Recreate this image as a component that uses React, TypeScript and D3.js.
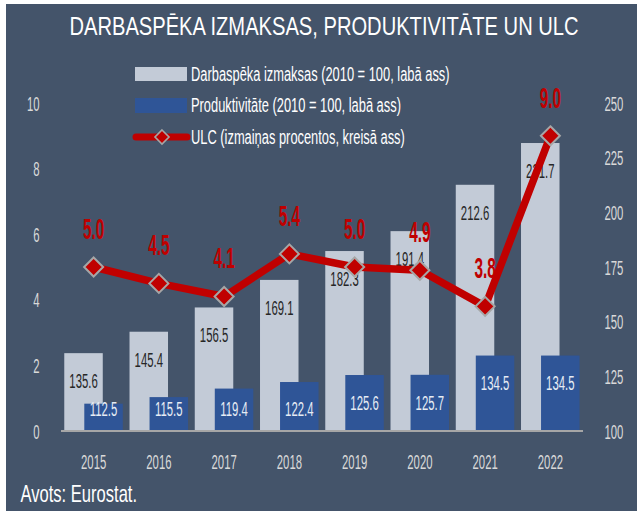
import React from "react";
import * as d3 from "d3";

const years = ["2015", "2016", "2017", "2018", "2019", "2020", "2021", "2022"];
const laborCost = [135.6, 145.4, 156.5, 169.1, 182.3, 191.4, 212.6, 231.7];
const productivity = [112.5, 115.5, 119.4, 122.4, 125.6, 125.7, 134.5, 134.5];
const ulc = [5.0, 4.5, 4.1, 5.4, 5.0, 4.9, 3.8, 9.0];
const leftTicks = [0, 2, 4, 6, 8, 10];
const rightTicks = [100, 125, 150, 175, 200, 225, 250];
const legendLabels = [
  "Darbaspēka izmaksas (2010 = 100, labā ass)",
  "Produktivitāte (2010 = 100, labā ass)",
  "ULC (izmaiņas procentos, kreisā ass)",
];
const title = "DARBASPĒKA IZMAKSAS, PRODUKTIVITĀTE UN ULC";
const source = "Avots: Eurostat.";

const W = 637;
const H = 511;
const BG = "#44546a";
const LIGHT = "#c3cbd7";
const DARK = "#2f5597";
const RED = "#c00000";
const GREY = "#a6a6a6";
const AXISTXT = "#d9d9d9";
const FONT = "'Liberation Sans', Arial, sans-serif";

type TProps = {
  x: number;
  y: number;
  sx: number;
  size: number;
  fill: string;
  anchor?: "start" | "middle" | "end";
  weight?: string;
  children: React.ReactNode;
};

function T({ x, y, sx, size, fill, anchor = "start", weight = "normal", children }: TProps) {
  return (
    <text
      transform={`translate(${x},${y}) scale(${sx},1)`}
      textAnchor={anchor}
      fill={fill}
      fontFamily={FONT}
      fontSize={size}
      fontWeight={weight}
    >
      {children}
    </text>
  );
}

export default function App() {
  const x = d3.scaleBand<string>().domain(years).range([61, 583]).paddingInner(0).paddingOuter(0);
  const yL = d3.scaleLinear().domain([0, 10]).range([431, 103]);
  const yR = d3.scaleLinear().domain([100, 250]).range([431, 103]);
  const bw = x.bandwidth();
  const barW = bw * 0.59;
  const lightOff = bw * 0.05;
  const darkOff = bw * 0.357;
  const cx = (y: string) => (x(y) as number) + bw / 2;
  const line = d3
    .line<number>()
    .x((_, i) => cx(years[i]))
    .y((d) => yL(d));
  const diamond = (px: number, py: number, r: number) =>
    `M${px},${py - r}L${px + r},${py}L${px},${py + r}L${px - r},${py}Z`;

  return (
    <svg width={W} height={H} style={{ position: "absolute", left: 0, top: 0 }}>
      <rect x={6} y={4} width={W - 6} height={H - 4} fill={BG} />
      <T x={324} y={35} sx={0.79} size={25.5} fill="#ffffff" anchor="middle">
        {title}
      </T>
      {/* legend */}
      <rect x={135} y={67} width={52} height={14} fill={LIGHT} />
      <rect x={135} y={98} width={52} height={15} fill={DARK} />
      <line x1={136} x2={187} y1={137} y2={137} stroke={RED} strokeWidth={7} strokeLinecap="round" />
      <path d={diamond(162, 137, 7)} fill={RED} stroke={GREY} strokeWidth={1.6} />
      {legendLabels.map((t, i) => (
        <T key={t} x={191} y={[74, 105, 137][i] + 7} sx={0.66} size={19.5} fill="#ffffff">
          {t}
        </T>
      ))}
      {/* axes labels */}
      {leftTicks.map((t) => (
        <T key={"l" + t} x={39.5} y={yL(t) + 7.5} sx={0.54} size={21} fill={AXISTXT} anchor="end">
          {t}
        </T>
      ))}
      {rightTicks.map((t) => (
        <T key={"r" + t} x={604.5} y={yR(t) + 7.5} sx={0.54} size={21} fill={AXISTXT}>
          {t}
        </T>
      ))}
      {/* bars */}
      {years.map((yr, i) => (
        <rect key={yr} x={(x(yr) as number) + lightOff} y={yR(laborCost[i])} width={barW}
          height={yR(100) - yR(laborCost[i])} fill={LIGHT} />
      ))}
      {years.map((yr, i) => (
        <rect key={yr + "d"} x={(x(yr) as number) + darkOff} y={yR(productivity[i])} width={barW}
          height={yR(100) - yR(productivity[i])} fill={DARK} />
      ))}
      {years.map((yr, i) => (
        <T key={yr + "lt"} x={(x(yr) as number) + lightOff + barW / 2} y={yR(laborCost[i]) + 27.3 + 7.5}
          sx={0.54} size={21} fill="#262626" anchor="middle">
          {laborCost[i].toFixed(1)}
        </T>
      ))}
      {years.map((yr, i) => (
        <T key={yr + "dt"} x={(x(yr) as number) + darkOff + barW / 2}
          y={Math.min(yR(productivity[i]) + 27.3, 408) + 7.5}
          sx={0.54} size={21} fill="#e6ecf4" anchor="middle">
          {productivity[i].toFixed(1)}
        </T>
      ))}
      <line x1={61} x2={583} y1={431} y2={431} stroke={GREY} strokeWidth={2} />
      {years.map((yr) => (
        <T key={yr + "x"} x={cx(yr)} y={468.5} sx={0.54} size={21} fill={AXISTXT} anchor="middle">
          {yr}
        </T>
      ))}
      {/* ULC line */}
      <path d={line(ulc) as string} fill="none" stroke={RED} strokeWidth={7.5} strokeLinejoin="round" />
      {ulc.map((v, i) => (
        <path key={"m" + i} d={diamond(cx(years[i]), yL(v), 9.5)} fill={RED} stroke={GREY} strokeWidth={2} />
      ))}
      {ulc.map((v, i) => (
        <T key={"u" + i} x={cx(years[i])} y={yL(v) - 38.5 + 10.3} sx={0.53} size={29} fill={RED}
          anchor="middle" weight="bold">
          {v.toFixed(1)}
        </T>
      ))}
      <T x={20.5} y={501.5} sx={0.72} size={23} fill="#ffffff">
        {source}
      </T>
    </svg>
  );
}
